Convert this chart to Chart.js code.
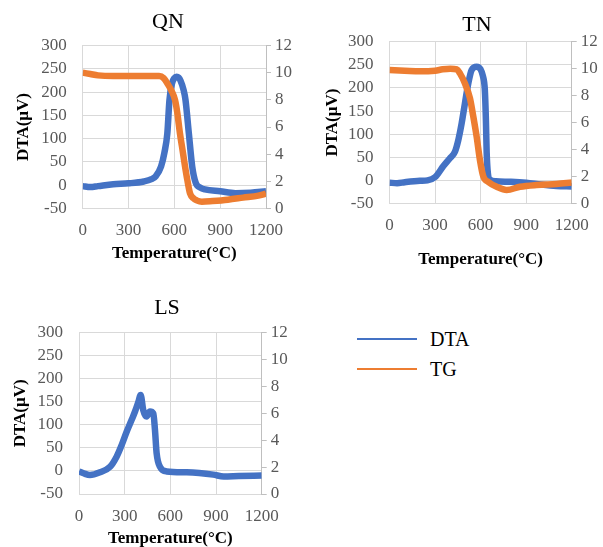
<!DOCTYPE html>
<html>
<head>
<meta charset="utf-8">
<script src="https://cdn.jsdelivr.net/npm/chart.js@4.4.1/dist/chart.umd.min.js"></script>
<style>
  html, body { margin: 0; padding: 0; background: #fff; }
  body { width: 603px; height: 547px; position: relative; overflow: hidden; font-family: "Liberation Serif", serif; }
  canvas { position: absolute; }
  .lg-line { position: absolute; width: 60px; height: 2px; }
  .lg-text { position: absolute; font-size: 20px; color: #000; line-height: 24px; }
</style>
</head>
<body>
<canvas id="qn" width="336" height="270" style="left:0;top:0"></canvas>
<canvas id="tn" width="334" height="275" style="left:310px;top:0"></canvas>
<canvas id="ls" width="334" height="280" style="left:0;top:280px"></canvas>

<div class="lg-line" style="left:357px;top:338px;background:#4472C4"></div>
<div class="lg-text" style="left:430px;top:327px">DTA</div>
<div class="lg-line" style="left:357px;top:368px;background:#ED7D31"></div>
<div class="lg-text" style="left:430px;top:357px">TG</div>

<script>
"use strict";

// QN sample
const qnDtaTemp = [0, 50, 100, 200, 300, 400, 450, 480, 513, 535, 554, 568, 585, 600, 615, 628, 640, 660, 673, 695, 717, 740, 770, 800, 900, 1000, 1100, 1200];
const qnDta = [-2, -4, -2, 2, 4, 8, 13, 20, 40, 70, 111, 183, 219, 230, 233, 231, 225, 205, 183, 111, 40, 5, -5, -9, -13, -17, -16, -13];
const qnTgTemp = [0, 50, 100, 200, 300, 400, 500, 530, 560, 580, 604, 620, 637, 655, 670, 685, 703, 725, 746, 780, 850, 950, 1050, 1150, 1200];
const qnTg = [10.0, 9.9, 9.8, 9.75, 9.75, 9.75, 9.75, 9.6, 9.1, 8.7, 8.0, 7.0, 5.5, 4.2, 3.1, 2.1, 1.1, 0.75, 0.6, 0.5, 0.55, 0.65, 0.8, 0.95, 1.1];

// TN sample
const tnDtaTemp = [0, 50, 100, 200, 250, 300, 355, 398, 431, 453, 475, 497, 519, 541, 574, 600, 615, 628, 635, 640, 648, 660, 700, 800, 900, 1000, 1100, 1200];
const tnDta = [-5, -6, -4, -1, 0, 7, 31, 48, 62, 87, 123, 167, 210, 239, 246, 240, 226, 195, 130, 60, 15, 2, -2, -3, -5, -9, -12, -13];
const tnTgTemp = [0, 100, 200, 300, 350, 400, 443, 464, 497, 530, 552, 574, 596, 618, 651, 706, 772, 860, 969, 1100, 1200];
const tnTg = [9.9, 9.85, 9.8, 9.85, 9.95, 10.0, 9.95, 9.65, 8.9, 7.8, 6.44, 4.95, 3.2, 2.0, 1.6, 1.24, 1.0, 1.24, 1.37, 1.45, 1.55];

// LS sample (DTA only)
const lsDtaTemp = [0, 30, 72, 138, 204, 247, 280, 313, 346, 368, 390, 405, 422, 444, 466, 488, 499, 510, 532, 576, 707, 882, 950, 1050, 1200];
const lsDta = [-1, -5, -9, -3, 9, 31, 56, 85, 111, 129, 150, 165, 132, 118, 129, 125, 89, 38, 9, -1, -3, -8, -12, -11, -10];

// axis ticks
const tempTicks = [0, 300, 600, 900, 1200];
const dtaRange = [-50, 300];
const tgRange = [0, 12];

const FONT = "'Liberation Serif', 'Times New Roman', serif";
const BLUE = '#4472C4';
const ORANGE = '#ED7D31';
const GRID = '#d9d9d9';
const TICK_COLOR = '#595959';

function toPoints(xs, ys) {
    return xs.map((x, i) => ({ x: x, y: ys[i] }));
}

// one panel; layout numbers pin the chart area where the picture has it
function makePanel(id, title, dtaT, dtaV, tgT, tgV, lay) {
    const datasets = [];
    if (tgT) {
        datasets.push({
            label: 'TG', data: toPoints(tgT, tgV), yAxisID: 'y1',
            borderColor: ORANGE, borderWidth: 6.5, order: 0
        });
    }
    datasets.push({
        label: 'DTA', data: toPoints(dtaT, dtaV), yAxisID: 'y',
        borderColor: BLUE, borderWidth: 6.5, order: 1
    });

    const tickFont = { family: FONT, size: 17 };
    const titleFont = { family: FONT, size: 17, weight: 'bold' };

    new Chart(document.getElementById(id), {
        type: 'line',
        data: { datasets: datasets },
        options: {
            responsive: false,
            animation: false,
            events: [],
            elements: { point: { radius: 0 }, line: { cubicInterpolationMode: 'monotone' } },
            layout: { padding: 0 },
            plugins: {
                legend: { display: false },
                tooltip: { enabled: false },
                title: {
                    display: true, text: title, color: '#000',
                    font: { family: FONT, size: 22, weight: 'normal' },
                    padding: { top: lay.titleTop, bottom: lay.titleBottom }
                }
            },
            scales: {
                x: {
                    type: 'linear', min: tempTicks[0], max: tempTicks[tempTicks.length - 1],
                    afterBuildTicks: s => { s.ticks = tempTicks.map(v => ({ value: v })); },
                    ticks: { color: TICK_COLOR, font: tickFont, padding: 12, maxRotation: 0, autoSkip: false, callback: v => String(v) },
                    grid: { color: GRID, drawTicks: false },
                    border: { color: GRID },
                    title: {
                        display: true, text: 'Temperature(°C)', color: '#000', font: titleFont,
                        padding: { top: 0, bottom: lay.xTitlePad }
                    },
                    afterFit: s => { s.height = lay.xHeight; }
                },
                y: {
                    position: 'left', min: dtaRange[0], max: dtaRange[1],
                    ticks: { stepSize: 50, color: TICK_COLOR, font: tickFont, padding: 16, autoSkip: false, callback: v => String(v) },
                    grid: { color: GRID, drawTicks: false },
                    border: { color: GRID },
                    title: {
                        display: true, text: 'DTA(μV)', color: '#000', font: titleFont,
                        padding: { top: lay.yTitlePad, bottom: 0 }
                    },
                    afterFit: s => { s.width = lay.leftWidth; }
                },
                y1: {
                    position: 'right', min: tgRange[0], max: tgRange[1],
                    ticks: { stepSize: 2, color: TICK_COLOR, font: tickFont, padding: 4, autoSkip: false, callback: v => String(v) },
                    grid: { drawOnChartArea: false, color: '#bfbfbf', tickLength: 5 },
                    border: { color: '#bfbfbf' },
                    afterFit: s => { s.width = lay.rightWidth; }
                }
            }
        }
    });
}

makePanel('qn', 'QN', qnDtaTemp, qnDta, qnTgTemp, qnTg, {
    titleTop: 8.8, titleBottom: 10.3, leftWidth: 82.7, rightWidth: 70,
    xHeight: 61.5, xTitlePad: 5.9, yTitlePad: 13.4
});
makePanel('tn', 'TN', tnDtaTemp, tnDta, tnTgTemp, tnTg, {
    titleTop: 11.8, titleBottom: 3.5, leftWidth: 79.5, rightWidth: 72.3,
    xHeight: 71.5, xTitlePad: 5.4, yTitlePad: 12.1
});
makePanel('ls', 'LS', lsDtaTemp, lsDta, null, null, {
    titleTop: 14.8, titleBottom: 11.5, leftWidth: 79, rightWidth: 72.3,
    xHeight: 66, xTitlePad: 11.1, yTitlePad: 10.4
});
</script>
</body>
</html>
